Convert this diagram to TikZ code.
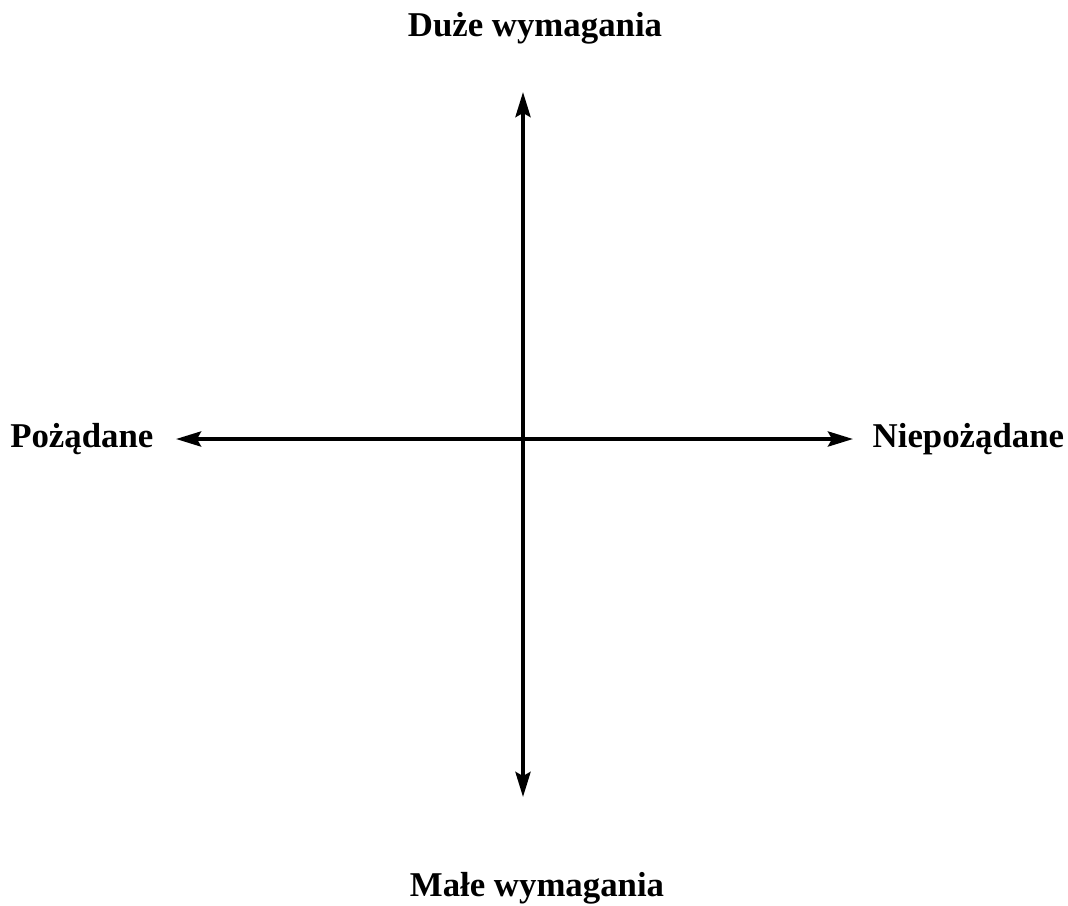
\documentclass[tikz,border=0pt]{standalone}
\usepackage{fontspec}
\setmainfont{Liberation Serif}
\usetikzlibrary{arrows.meta,positioning}
\tikzset{
  axis line/.style = {{Stealth[length=2.5mm,width=1.5mm,inset=0.4mm]}-{Stealth[length=2.5mm,width=1.5mm,inset=0.4mm]}, line width=1.1pt},
  axlabel/.style   = {font=\bfseries\fontsize{9.9}{12}\selectfont, inner sep=0pt},
}

\begin{document}
\begin{tikzpicture}
  \useasboundingbox (0,0) rectangle (10.68,9.05);
  % ---------------- axis ends ----------------------------------------------
  \coordinate (top)    at (5.23,8.13);
  \coordinate (bottom) at (5.23,1.08);
  \coordinate (left)   at (1.76,4.66);
  \coordinate (right)  at (8.53,4.66);

  % ---------------- axes ---------------------------------------------------
  \draw[axis line] (top) -- (bottom);
  \draw[axis line] (left) -- (right);

  % ---------------- labels -------------------------------------------------
  \node[axlabel] (high) at (5.35,8.77) {Duże wymagania};
  \node[axlabel] (low)  at (5.37,0.17) {Małe wymagania};
  \node[axlabel,anchor=east] (want)   at (1.54,4.66) {Pożądane};
  \node[axlabel,anchor=west] (unwant) at (8.72,4.66) {Niepożądane};
\end{tikzpicture}
\end{document}
